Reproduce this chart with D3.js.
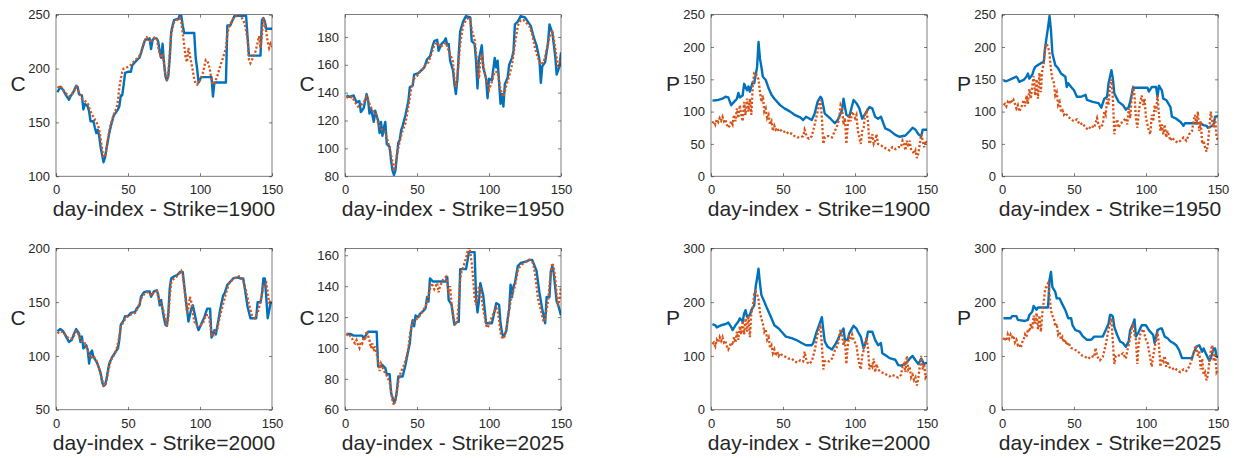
<!DOCTYPE html>
<html>
<head>
<meta charset="utf-8">
<script src="https://cdn.jsdelivr.net/npm/d3@7"></script>
<style>
	body { margin: 0; background: #fff; }
	text { font-family: 'Liberation Sans', Arial, Helvetica, sans-serif; fill: #262626; }
</style>
</head>
<body>
<script>
'use strict';

var dayRange = [0, 150];
var dayTicks = [0, 50, 100, 150];

var c1900Range = [100, 250];
var c1900Ticks = [100, 150, 200, 250];
var c1950Range = [80, 196];
var c1950Ticks = [80, 100, 120, 140, 160, 180];
var p1900Range = [0, 250];
var p1900Ticks = [0, 50, 100, 150, 200, 250];
var p1950Range = [0, 250];
var p1950Ticks = [0, 50, 100, 150, 200, 250];
var c2000Range = [50, 200];
var c2000Ticks = [50, 100, 150, 200];
var c2025Range = [60, 164.5];
var c2025Ticks = [60, 80, 100, 120, 140, 160];
var p2000Range = [0, 300];
var p2000Ticks = [0, 100, 200, 300];
var p2025Range = [0, 300];
var p2025Ticks = [0, 100, 200, 300];

// [day, price]
var c1900Blue = [[1,178],[3,183],[5,180],[7,175],[9,171],[10,174],[12,178],[14,184],[15,183],[16,176],[18,175],[19,162],[20,167],[22,165],[23,160],[24,151],[26,151],[27,145],[28,140],[29,143],[30,137],[31,127],[32,120],[33,113],[34,117],[35,125],[36,133],[37,140],[38,146],[40,156],[42,160],[43,162],[44,165],[45,175],[46,175],[47,185],[48,196],[50,197],[52,197],[53,203],[55,206],[57,209],[58,210],[60,219],[62,227],[64,227],[65,228],[66,218],[67,226],[68,228],[70,228],[71,225],[72,216],[73,210],[74,223],[75,205],[76,193],[77,189],[78,193],[79,210],[80,234],[81,240],[82,245],[84,246],[85,246],[86,250],[87,249],[88,240],[89,233],[96,233],[97,210],[98,200],[99,187],[100,190],[101,192],[108,192],[109,174],[110,187],[118,187],[119,240],[121,240],[122,243],[124,249],[132,249],[133,230],[134,212],[136,212],[142,212],[143,245],[144,247],[145,244],[146,237],[150,237]];
var c1900Red = [[1,182],[3,184],[5,180],[7,177],[9,174],[11,176],[13,180],[14,183],[16,178],[18,172],[20,170],[22,168],[24,160],[26,155],[28,150],[29,148],[30,143],[31,135],[32,125],[33,118],[34,118],[35,125],[36,134],[37,142],[38,148],[40,157],[42,163],[43,170],[44,183],[45,190],[46,197],[47,200],[49,201],[51,202],[53,205],[55,208],[57,210],[59,214],[60,220],[62,227],[63,229],[65,226],[66,224],[67,228],[69,229],[70,228],[71,220],[72,214],[73,210],[74,212],[75,205],[76,194],[77,189],[78,195],[79,215],[80,232],[81,238],[82,243],[84,245],[86,247],[87,243],[88,233],[89,222],[90,210],[91,206],[92,219],[93,212],[94,205],[95,198],[96,190],[97,186],[98,185],[99,187],[100,189],[102,196],[104,208],[105,207],[106,204],[107,198],[108,189],[109,185],[110,186],[112,193],[114,202],[116,210],[118,219],[119,232],[120,238],[122,244],[124,248],[128,250],[131,242],[133,228],[134,208],[135,205],[136,208],[138,213],[140,224],[141,230],[142,219],[143,231],[144,247],[146,234],[147,225],[148,219],[149,223],[150,220]];

var c1950Blue = [[1,138],[3,137],[6,138],[8,133],[10,134],[11,126],[13,129],[14,134],[15,139],[16,135],[17,125],[18,129],[20,119],[21,127],[23,120],[24,111],[25,119],[26,109],[27,115],[28,119],[29,103],[31,101],[32,91],[33,84],[34,81],[35,84],[36,94],[37,104],[38,106],[39,113],[40,116],[42,124],[44,134],[45,144],[47,145],[48,153],[51,154],[53,156],[55,158],[57,164],[59,166],[61,174],[62,177],[64,178],[65,170],[67,175],[69,177],[70,179],[71,174],[72,175],[73,163],[75,156],[76,146],[77,139],[78,149],[79,168],[80,184],[82,191],[84,195],[87,194],[88,177],[90,175],[91,163],[92,143],[93,164],[95,174],[96,158],[98,150],[99,136],[100,150],[102,149],[104,165],[105,158],[106,163],[108,132],[109,139],[110,130],[111,146],[113,151],[114,160],[116,165],[117,170],[118,189],[120,191],[122,195],[125,194],[127,191],[129,188],[131,180],[133,174],[135,164],[136,147],[137,159],[139,162],[141,176],[142,189],[144,183],[146,166],[147,153],[149,159],[150,169]];
var c1950Red = [[1,137],[3,136],[5,137],[7,133],[9,130],[11,131],[13,133],[15,137],[17,132],[19,127],[21,126],[23,118],[25,114],[27,113],[29,108],[31,100],[33,90],[34,84],[35,88],[36,95],[38,105],[40,113],[42,118],[44,130],[46,143],[48,150],[50,152],[52,155],[54,157],[56,160],[58,162],[60,168],[62,174],[64,176],[66,173],[68,174],[70,176],[72,170],[74,165],[75,162],[76,150],[77,144],[78,150],[80,175],[82,188],[84,192],[86,194],[87,193],[88,185],[90,178],[92,160],[93,150],[94,162],[95,168],[96,160],[98,150],[100,142],[102,148],[104,155],[106,155],[108,142],[110,137],[112,145],[114,152],[116,160],[118,175],[120,188],[122,192],[124,192],[126,190],[128,188],[130,182],[132,172],[134,165],[136,160],[138,162],[140,170],[142,180],[144,185],[146,172],[148,158],[150,165]];

var p1900Blue = [[1,117],[5,118],[8,120],[10,123],[12,122],[14,110],[16,115],[18,120],[19,129],[20,122],[22,125],[23,143],[25,133],[26,139],[27,131],[29,146],[30,144],[32,169],[33,208],[34,182],[35,169],[36,154],[38,149],[40,136],[42,126],[44,120],[48,110],[51,105],[55,100],[58,95],[62,91],[64,87],[66,92],[70,87],[72,97],[74,115],[76,123],[77,120],[79,97],[83,89],[86,82],[88,87],[91,102],[92,120],[94,95],[96,92],[99,118],[101,113],[103,105],[105,89],[108,100],[110,107],[112,105],[114,92],[116,89],[118,92],[121,74],[124,71],[128,64],[131,61],[135,63],[138,70],[140,75],[142,72],[144,65],[146,62],[147,72],[150,72]];
var p1900Red = [[1,82],[2,85],[3,80],[4,88],[5,84],[6,90],[7,86],[8,92],[9,85],[10,88],[11,80],[12,75],[13,78],[14,85],[15,80],[16,95],[17,85],[18,105],[19,90],[20,110],[21,95],[22,85],[23,115],[24,95],[25,120],[26,100],[27,120],[28,95],[29,140],[30,160],[31,160],[32,155],[33,150],[34,130],[35,115],[36,125],[37,100],[38,105],[39,90],[40,95],[41,80],[42,85],[43,70],[44,78],[45,72],[46,75],[47,70],[48,72],[50,68],[52,70],[54,65],[56,66],[58,62],[60,60],[62,60],[64,62],[65,72],[66,65],[67,60],[68,58],[70,62],[72,80],[73,90],[74,100],[75,110],[76,118],[77,90],[78,50],[79,60],[80,62],[82,62],[84,60],[86,70],[88,80],[89,90],[90,110],[91,105],[92,80],[93,90],[94,50],[95,80],[96,95],[97,85],[98,100],[99,95],[100,90],[101,95],[102,70],[103,60],[104,50],[105,70],[106,75],[107,95],[108,100],[109,85],[110,50],[111,55],[112,65],[113,50],[114,55],[115,65],[116,50],[118,48],[120,45],[122,42],[124,40],[126,45],[128,42],[130,45],[132,45],[133,55],[134,50],[135,40],[136,55],[137,45],[138,55],[139,40],[140,38],[141,35],[142,40],[143,28],[144,35],[145,50],[146,65],[147,55],[148,45],[149,55],[150,50]];

var p1950Blue = [[1,148],[3,147],[7,151],[10,154],[11,151],[12,146],[15,149],[17,154],[18,159],[19,151],[21,157],[22,164],[23,169],[25,172],[27,175],[29,177],[30,200],[32,231],[33,248],[34,226],[35,190],[37,172],[39,167],[41,159],[44,154],[45,138],[46,144],[48,138],[50,133],[52,123],[55,123],[58,126],[59,118],[63,115],[67,113],[69,106],[71,120],[73,123],[74,144],[76,164],[77,151],[78,128],[81,115],[84,110],[86,103],[88,107],[89,115],[91,137],[101,137],[102,131],[104,138],[107,138],[108,123],[109,140],[111,133],[112,120],[114,118],[117,107],[118,92],[121,89],[124,84],[126,78],[127,82],[138,82],[140,79],[142,78],[143,75],[146,78],[147,81],[148,92],[150,93]];
var p1950Red = [[1,110],[2,112],[3,108],[4,115],[5,112],[6,118],[7,114],[8,118],[9,112],[10,105],[11,110],[12,100],[13,105],[14,110],[15,118],[16,108],[17,125],[18,112],[19,135],[20,120],[21,140],[22,155],[23,125],[24,150],[25,120],[26,160],[27,130],[28,165],[29,175],[30,200],[31,205],[32,200],[33,190],[34,165],[35,150],[36,145],[37,125],[38,130],[39,110],[40,115],[41,100],[42,102],[43,95],[44,98],[46,92],[48,88],[50,85],[52,88],[54,80],[56,82],[58,75],[60,72],[62,78],[64,75],[66,90],[67,80],[68,75],[70,80],[71,100],[72,95],[73,120],[74,110],[75,140],[76,150],[77,120],[78,65],[79,80],[80,88],[81,75],[82,80],[84,85],[86,90],[87,80],[88,105],[89,90],[90,120],[91,140],[92,125],[93,90],[94,75],[95,100],[96,115],[97,125],[98,110],[99,120],[100,90],[101,80],[102,70],[103,65],[104,95],[105,85],[106,110],[107,100],[108,125],[109,95],[110,70],[111,80],[112,65],[113,80],[114,60],[115,70],[116,62],[117,55],[118,60],[120,55],[122,52],[124,55],[126,60],[128,55],[130,65],[132,70],[133,85],[134,95],[135,80],[136,100],[137,70],[138,85],[139,50],[140,55],[141,45],[142,38],[143,50],[144,75],[145,100],[146,85],[147,75],[148,90],[149,60],[150,55]];

var c2000Blue = [[1,123],[3,125],[5,123],[7,118],[9,113],[11,115],[12,119],[14,125],[16,121],[17,113],[18,118],[19,107],[21,110],[22,106],[23,93],[24,103],[25,105],[26,99],[28,95],[29,92],[31,84],[32,76],[33,72],[34,73],[35,78],[36,86],[37,93],[39,99],[41,103],[43,107],[44,115],[45,129],[47,133],[48,137],[50,137],[52,140],[55,141],[56,144],[58,147],[59,155],[61,159],[63,160],[65,160],[66,155],[68,160],[70,161],[71,157],[72,147],[73,152],[74,143],[75,135],[76,129],[77,128],[78,140],[79,163],[80,172],[82,174],[84,175],[86,178],[88,178],[89,166],[91,143],[92,132],[94,144],[95,147],[96,141],[98,128],[99,124],[101,130],[103,136],[105,144],[107,144],[108,117],[110,124],[111,120],[113,135],[114,143],[116,156],[117,158],[119,166],[121,169],[123,172],[126,173],[128,172],[130,172],[131,164],[133,146],[135,135],[139,135],[140,150],[142,150],[143,157],[144,172],[145,172],[146,155],[147,135],[149,149],[150,150]];
var c2000Red = [[1,121],[3,123],[5,122],[7,119],[9,116],[11,116],[13,120],[14,123],[15,122],[17,115],[19,112],[20,112],[22,105],[24,98],[26,100],[28,96],[30,88],[32,78],[33,73],[34,72],[35,76],[36,84],[38,96],[40,100],[42,106],[44,118],[45,127],[47,132],[49,136],[51,138],[53,139],[55,140],[57,145],[59,153],[61,157],[63,159],[65,159],[66,156],[68,159],[70,160],[71,155],[72,150],[73,148],[74,145],[75,140],[76,132],[77,128],[78,135],[79,155],[80,168],[82,172],[84,174],[86,177],[87,179],[88,176],[89,165],[90,152],[91,140],[92,145],[93,155],[94,150],[95,140],[96,132],[98,128],[100,128],[102,130],[104,138],[106,138],[107,130],[108,120],[109,118],[110,122],[112,125],[114,138],[116,148],[118,158],[120,167],[122,170],[124,172],[126,174],[128,174],[130,170],[132,160],[134,148],[136,138],[138,135],[140,140],[142,150],[144,165],[146,168],[148,150],[150,152]];

var c2025Blue = [[1,109],[4,109],[6,108],[12,108],[13,106],[15,109],[16,110.5],[22,110.5],[23,88],[25,88],[26,89],[28,87],[29,83],[31,83],[32,71],[34,65],[35,66],[36,72],[37,81.5],[40,81.5],[42,89],[43,94],[45,103],[46,113],[47,118],[48,114],[49,121],[51,120],[52,122],[55,124.5],[56,126],[57,133],[58,130],[59,145],[61,143],[70,143],[71,146],[72,131],[74,128],[75,121],[76,115],[78,117],[79,117],[80,151],[84,151],[85,156],[86,162],[90,162],[91,133],[92,123],[93,130],[94,142],[96,134],[97,125],[98,116],[102,116],[103,120],[105,129],[107,128],[108,116],[109,110],[110,107],[112,111],[113,119],[114,125],[115,141],[116,133],[117,140],[118,142],[120,153],[122,155],[126,156],[128,157],[130,157],[133,150],[135,136],[137,125],[139,116],[140,133],[142,133],[143,150],[144,153],[145,148],[147,130],[148,128],[150,121]];
var c2025Red = [[1,108],[2,109],[3,109],[4,107],[5,106],[6,104],[7,103],[8,105],[9,102],[10,100],[11,104],[12,103],[13,107],[14,105],[15,111],[16,108],[17,105],[18,100],[19,103],[20,98],[21,101],[22,96],[23,92],[24,85],[25,90],[26,88],[27,85],[28,84],[29,82],[30,80],[31,78],[32,72],[33,66],[34,63],[35,66],[36,72],[37,78],[38,82],[39,85],[40,87],[41,89],[42,92],[43,95],[44,100],[45,108],[46,113],[47,117],[48,117],[50,119],[52,121],[54,124],[56,127],[57,130],[58,135],[59,138],[60,142],[61,140],[62,138],[63,140],[64,142],[65,136],[66,140],[67,142],[68,144],[69,145],[70,146],[71,142],[72,135],[73,140],[74,128],[75,122],[76,117],[77,115],[78,118],[79,130],[80,145],[81,150],[82,152],[83,155],[84,158],[85,162],[86,165],[87,162],[88,155],[89,145],[90,132],[91,128],[92,132],[93,140],[94,138],[95,132],[96,125],[97,120],[98,115],[99,113],[100,115],[101,118],[102,120],[103,122],[104,124],[105,126],[106,124],[107,118],[108,110],[109,107],[110,106],[111,108],[112,112],[113,118],[114,125],[115,130],[116,135],[117,137],[118,140],[119,145],[120,150],[121,152],[122,153],[124,155],[126,156],[128,157],[130,156],[131,153],[132,148],[133,140],[134,132],[135,128],[136,125],[137,120],[138,117],[139,119],[140,125],[141,130],[142,140],[143,150],[144,155],[145,152],[146,145],[147,135],[148,127],[149,132],[150,140]];

var p2000Blue = [[1,159],[3,157],[4,153],[7,157],[10,159],[12,162],[14,154],[15,148],[17,157],[19,164],[20,170],[22,164],[23,179],[24,185],[25,173],[27,176],[28,185],[30,194],[31,228],[32,244],[33,262],[34,235],[35,213],[37,201],[39,188],[40,182],[42,170],[44,157],[47,151],[49,145],[52,136],[56,133],[59,130],[63,124],[66,120],[70,120],[71,124],[73,142],[75,157],[77,172],[78,148],[79,127],[81,117],[84,112],[86,120],[88,130],[90,142],[92,151],[93,130],[95,130],[96,142],[99,156],[101,151],[102,145],[104,136],[106,114],[108,130],[109,145],[112,145],[114,130],[116,120],[118,124],[119,105],[122,100],[124,96],[128,93],[130,83],[132,82],[135,85],[138,95],[140,100],[142,92],[144,85],[146,95],[148,85],[150,88]];
var p2000Red = [[1,122],[2,125],[3,118],[4,130],[5,125],[6,135],[7,128],[8,135],[9,125],[10,128],[11,118],[12,112],[13,118],[14,125],[15,120],[16,135],[17,125],[18,145],[19,130],[20,155],[21,140],[22,165],[23,140],[24,170],[25,145],[26,175],[27,135],[28,180],[29,190],[30,215],[31,220],[32,215],[33,205],[34,180],[35,170],[36,160],[37,145],[38,150],[39,130],[40,135],[41,115],[42,120],[43,105],[44,112],[45,100],[46,108],[47,100],[48,105],[50,100],[52,98],[54,95],[56,95],[58,90],[60,88],[62,92],[64,90],[65,108],[66,95],[67,88],[68,85],[70,90],[72,110],[73,125],[74,140],[75,150],[76,158],[77,120],[78,75],[79,90],[80,92],[82,90],[84,95],[86,110],[88,120],[89,135],[90,150],[91,140],[92,120],[93,130],[94,85],[95,120],[96,135],[97,130],[98,140],[99,130],[100,125],[101,120],[102,100],[103,85],[104,75],[105,100],[106,110],[107,125],[108,135],[109,115],[110,75],[111,85],[112,80],[113,95],[114,70],[115,85],[116,75],[118,70],[120,68],[122,65],[124,62],[126,65],[128,62],[130,60],[132,65],[133,80],[134,85],[135,70],[136,100],[137,75],[138,80],[139,60],[140,65],[141,55],[142,60],[143,45],[144,60],[145,80],[146,100],[147,75],[148,85],[149,60],[150,65]];

var p2025Blue = [[1,170],[6,170],[7,174],[10,174],[11,167],[16,165],[18,167],[19,176],[21,182],[22,193],[24,186],[25,190],[32,190],[33,241],[34,256],[35,228],[37,219],[38,207],[40,207],[41,201],[44,185],[46,170],[48,170],[49,157],[51,148],[54,145],[56,137],[59,130],[62,130],[64,136],[70,136],[72,148],[74,160],[75,176],[76,176],[77,173],[78,154],[80,139],[82,127],[84,124],[86,117],[88,127],[89,148],[91,160],[92,168],[93,136],[95,145],[97,157],[100,157],[102,148],[105,139],[106,124],[108,148],[110,151],[111,151],[113,136],[115,133],[117,127],[119,124],[121,120],[123,111],[125,96],[132,96],[133,105],[135,117],[137,120],[139,108],[140,114],[142,102],[144,91],[145,96],[147,114],[148,114],[149,99],[150,97]];
var p2025Red = [[1,130],[2,135],[3,128],[4,140],[5,132],[6,140],[7,135],[8,138],[9,125],[10,130],[11,120],[12,122],[13,115],[14,125],[15,130],[16,140],[17,135],[18,150],[19,145],[20,160],[21,150],[22,175],[23,160],[24,180],[25,150],[26,175],[27,145],[28,180],[29,200],[30,225],[31,230],[32,235],[33,215],[34,185],[35,175],[36,170],[37,155],[38,160],[39,140],[40,145],[41,130],[42,135],[43,125],[44,130],[45,120],[46,125],[48,115],[50,112],[52,110],[54,105],[56,100],[58,98],[60,95],[62,100],[64,98],[65,115],[66,100],[67,95],[68,92],[70,98],[72,120],[73,135],[74,150],[75,160],[76,170],[77,125],[78,85],[79,100],[80,102],[82,100],[84,105],[86,95],[87,110],[88,120],[89,135],[90,150],[91,160],[92,140],[93,130],[94,85],[95,125],[96,140],[97,145],[98,150],[99,140],[100,130],[101,125],[102,110],[103,95],[104,80],[105,100],[106,115],[107,130],[108,145],[109,120],[110,80],[111,95],[112,90],[113,100],[114,80],[115,90],[116,80],[118,75],[120,78],[122,72],[124,70],[126,75],[128,72],[130,80],[132,95],[133,105],[134,115],[135,120],[136,100],[137,110],[138,75],[139,95],[140,65],[141,70],[142,55],[143,65],[144,90],[145,110],[146,120],[147,90],[148,105],[149,70],[150,75]];

var strikes = [1900, 1950, 1900, 1950, 2000, 2025, 2000, 2025];
var yNames = ['C', 'C', 'P', 'P', 'C', 'C', 'P', 'P'];

var panels = [
	{ blue: c1900Blue, red: c1900Red, range: c1900Range, ticks: c1900Ticks },
	{ blue: c1950Blue, red: c1950Red, range: c1950Range, ticks: c1950Ticks },
	{ blue: p1900Blue, red: p1900Red, range: p1900Range, ticks: p1900Ticks },
	{ blue: p1950Blue, red: p1950Red, range: p1950Range, ticks: p1950Ticks },
	{ blue: c2000Blue, red: c2000Red, range: c2000Range, ticks: c2000Ticks },
	{ blue: c2025Blue, red: c2025Red, range: c2025Range, ticks: c2025Ticks },
	{ blue: p2000Blue, red: p2000Red, range: p2000Range, ticks: p2000Ticks },
	{ blue: p2025Blue, red: p2025Red, range: p2025Range, ticks: p2025Ticks }
];

var lefts = [56, 345, 711, 1002];
var tops = [14.7, 248.3];
var W = 216, H = 161.5;
var axisColor = '#262626';

var svg = d3.select('body').append('svg')
	.attr('width', 1234)
	.attr('height', 458);

var styleAxis = function(g) {
	g.select('.domain').remove();
	g.selectAll('.tick line')
		.attr('stroke', axisColor)
		.attr('stroke-width', 0.6);
	g.selectAll('.tick text')
		.attr('fill', axisColor)
		.style('font-size', '13px');
};

panels.forEach(function(p, i) {
	var g = svg.append('g')
		.attr('transform', 'translate(' + lefts[i % 4] + ',' + tops[Math.floor(i / 4)] + ')');

	var x = d3.scaleLinear().domain(dayRange).range([0, W]);
	var y = d3.scaleLinear().domain(p.range).range([H, 0]);

	g.append('clipPath').attr('id', 'clip' + i)
		.append('rect').attr('width', W).attr('height', H);

	var line = d3.line()
		.x(function(d) { return x(d[0]); })
		.y(function(d) { return y(d[1]); });

	var plot = g.append('g').attr('clip-path', 'url(#clip' + i + ')');
	plot.append('path')
		.datum(p.blue)
		.attr('d', line)
		.attr('fill', 'none')
		.attr('stroke', '#0072BD')
		.attr('stroke-width', 2.4)
		.attr('stroke-linejoin', 'round');
	plot.append('path')
		.datum(p.red)
		.attr('d', line)
		.attr('fill', 'none')
		.attr('stroke', '#D95319')
		.attr('stroke-width', 2.3)
		.attr('stroke-dasharray', '2.2,2');

	g.append('g')
		.attr('transform', 'translate(0,' + H + ')')
		.call(d3.axisBottom(x).tickValues(dayTicks).tickSize(-3).tickPadding(9))
		.call(styleAxis);
	g.append('g')
		.call(d3.axisTop(x).tickValues(dayTicks).tickSize(-3).tickFormat(''))
		.call(styleAxis);
	g.append('g')
		.call(d3.axisLeft(y).tickValues(p.ticks).tickSize(-3).tickPadding(6))
		.call(styleAxis);
	g.append('g')
		.attr('transform', 'translate(' + W + ',0)')
		.call(d3.axisRight(y).tickValues(p.ticks).tickSize(-3).tickFormat(''))
		.call(styleAxis);

	g.append('rect')
		.attr('width', W)
		.attr('height', H)
		.attr('fill', 'none')
		.attr('stroke', axisColor)
		.attr('stroke-width', 0.6);

	g.append('text')
		.attr('x', W / 2)
		.attr('y', H + 40)
		.attr('text-anchor', 'middle')
		.style('font-size', '21px')
		.text('day-index - Strike=' + strikes[i]);

	g.append('text')
		.attr('x', -38)
		.attr('y', H / 2 - 4)
		.attr('text-anchor', 'middle')
		.style('font-size', '21px')
		.text(yNames[i]);
});
</script>
</body>
</html>
